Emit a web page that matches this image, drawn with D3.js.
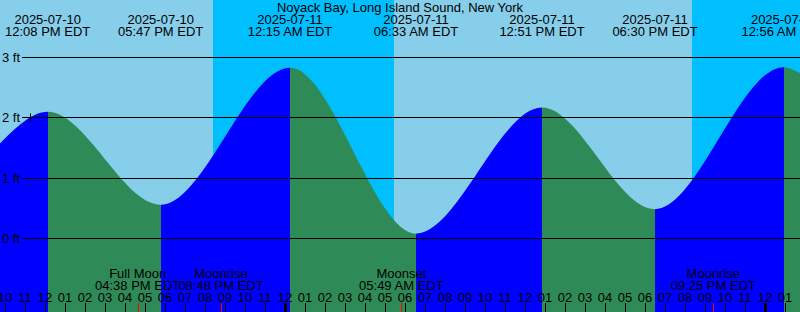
<!DOCTYPE html>
<html>
<head>
<meta charset="utf-8">
<script src="https://cdn.jsdelivr.net/npm/d3@7"></script>
<style>
  body { margin: 0; background: #fff; }
  svg { display: block; font-family: "Liberation Sans", Arial, sans-serif; font-size: 13px; }
</style>
</head>
<body>
<svg id="chart"></svg>
<script>
const width = 800;
const height = 312;

const title = "Noyack Bay, Long Island Sound, New York";

// tide curve: first and last points are readings at the chart edges, the rest are highs/lows
const tideTimes = ["2025-07-10T09:45", "2025-07-10T12:08", "2025-07-10T17:47", "2025-07-11T00:15",
  "2025-07-11T06:33", "2025-07-11T12:51", "2025-07-11T18:30", "2025-07-12T00:56", "2025-07-12T01:45"];
const tideLevels = [1.575, 2.10, 0.56, 2.83, 0.08, 2.17, 0.485, 2.84, 2.74];

// labels for the highs and lows (tideTimes[1..7])
const eventDates = ["2025-07-10", "2025-07-10", "2025-07-11", "2025-07-11", "2025-07-11", "2025-07-11", "2025-07-11"];
const eventClock = ["12:08 PM EDT", "05:47 PM EDT", "12:15 AM EDT", "06:33 AM EDT", "12:51 PM EDT", "06:30 PM EDT", "12:56 AM EDT"];

// night bands (sunset -> sunrise)
const nightStart = ["2025-07-10T20:24", "2025-07-11T20:21"];
const nightEnd = ["2025-07-11T05:27", "2025-07-12T05:28"];

// moon events
const moonTimes = ["2025-07-10T16:38", "2025-07-10T20:48", "2025-07-11T05:49", "2025-07-11T21:25"];
const moonNames = ["Full Moon", "Moonrise", "Moonset", "Moonrise"];
const moonClock = ["04:38 PM EDT", "08:48 PM EDT", "05:49 AM EDT", "09:25 PM EDT"];

const levelTicks = [0, 1, 2, 3];

// "now" marker
const nowTime = "2025-07-10T11:15";
const nowLevel = 2.01;

const parse = d3.timeParse("%Y-%m-%dT%H:%M");
const tide = tideTimes.map((t, i) => ({ t: parse(t), v: tideLevels[i] }));

const svg = d3.select("#chart")
  .attr("width", width)
  .attr("height", height);

const x = d3.scaleTime()
  .domain([parse("2025-07-10T09:45"), parse("2025-07-12T01:45")])
  .range([0, width]);

const y = d3.scaleLinear()
  .domain([0, 3])
  .range([238.5, 57.5]);

// sky
svg.append("rect")
  .attr("width", width).attr("height", height)
  .attr("fill", "#87ceeb");

svg.selectAll("rect.night")
  .data(nightStart.map((s, i) => [parse(s), parse(nightEnd[i])]))
  .join("rect")
  .attr("class", "night")
  .attr("x", d => x(d[0]))
  .attr("width", d => Math.min(width, x(d[1])) - x(d[0]))
  .attr("y", 0).attr("height", height)
  .attr("fill", "#00bfff")
  .attr("shape-rendering", "crispEdges");

// tide area, coloured by rising / falling
const area = d3.area()
  .x(d => x(d.t))
  .y0(height)
  .y1(d => y(d.v))
  .curve(d3.curveMonotoneX);

svg.append("clipPath").attr("id", "water")
  .append("path").attr("d", area(tide));

const segs = d3.pairs(tide);
svg.append("g").attr("clip-path", "url(#water)")
  .selectAll("rect")
  .data(segs)
  .join("rect")
  .attr("x", d => x(d[0].t))
  .attr("width", d => x(d[1].t) - x(d[0].t))
  .attr("y", 0).attr("height", height)
  .attr("fill", d => d[1].v > d[0].v ? "#0000ff" : "#2e8b57")
  .attr("shape-rendering", "crispEdges");

// level lines
const gy = d => Math.floor(y(d)) + 0.5;
svg.selectAll("line.grid")
  .data(levelTicks)
  .join("line")
  .attr("class", "grid")
  .attr("x1", 22).attr("x2", width)
  .attr("y1", gy).attr("y2", gy)
  .attr("stroke", "#000");

svg.selectAll("text.lvl")
  .data(levelTicks)
  .join("text")
  .attr("class", "lvl")
  .attr("x", 2)
  .attr("y", d => gy(d) + 4.5)
  .text(d => d + " ft");

// now marker
const nx = Math.round(x(parse(nowTime))) + 0.5;
const ny = Math.floor(y(nowLevel)) + 0.5;
svg.append("line").attr("x1", nx).attr("x2", nx).attr("y1", ny - 4).attr("y2", ny + 4).attr("stroke", "#000");
svg.append("line").attr("x1", nx - 4).attr("x2", nx + 4).attr("y1", ny).attr("y2", ny).attr("stroke", "#000");

// title
svg.append("text")
  .attr("x", width / 2).attr("y", 12)
  .attr("text-anchor", "middle")
  .text(title);

// high / low labels
const events = tide.slice(1, 8);
const evtLabels = svg.selectAll("g.evt")
  .data(events)
  .join("g")
  .attr("class", "evt")
  .attr("transform", d => `translate(${x(d.t)},0)`)
  .attr("text-anchor", "middle");
evtLabels.append("text").attr("y", 24).text((d, i) => eventDates[i]);
evtLabels.append("text").attr("y", 36).text((d, i) => eventClock[i]);

// moon labels
const moon = moonTimes.map(parse);
const moonLabels = svg.selectAll("g.moon")
  .data(moon)
  .join("g")
  .attr("class", "moon")
  .attr("transform", d => `translate(${x(d)},0)`)
  .attr("text-anchor", "middle");
moonLabels.append("text").attr("y", 278).text((d, i) => moonNames[i]);
moonLabels.append("text").attr("y", 289.5).text((d, i) => moonClock[i]);

// hour ticks
const hours = x.ticks(d3.timeHour.every(1));
const fmtHour = d3.timeFormat("%I");
svg.selectAll("text.hr")
  .data(hours)
  .join("text")
  .attr("class", "hr")
  .attr("x", d => x(d))
  .attr("y", 302)
  .attr("text-anchor", "middle")
  .text(d => fmtHour(d));

svg.selectAll("rect.tick")
  .data(hours)
  .join("rect")
  .attr("class", "tick")
  .attr("x", d => d.getHours() === 0 ? Math.round(x(d)) - 1 : Math.round(x(d)))
  .attr("width", d => d.getHours() === 0 ? 3 : 1)
  .attr("y", 303).attr("height", 9)
  .attr("fill", "#000")
  .attr("shape-rendering", "crispEdges");

svg.selectAll("rect.mtick")
  .data(moon)
  .join("rect")
  .attr("class", "mtick")
  .attr("x", d => Math.round(x(d)))
  .attr("width", 1)
  .attr("y", 303).attr("height", 9)
  .attr("fill", "#ff0000")
  .attr("shape-rendering", "crispEdges");
</script>
</body>
</html>
